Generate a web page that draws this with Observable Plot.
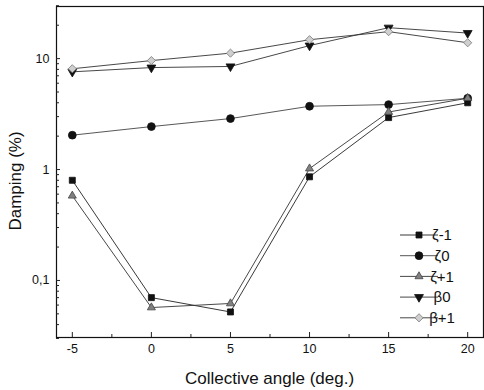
<!DOCTYPE html>
<html>
<head>
<meta charset="utf-8">
<script src="https://cdn.jsdelivr.net/npm/d3@7"></script>
<script src="https://cdn.jsdelivr.net/npm/@observablehq/plot@0.6"></script>
<style>
  html, body { margin: 0; padding: 0; background: #fff; }
  #chart { position: relative; width: 484px; height: 390px; font-family: "Liberation Sans", Arial, sans-serif; }
</style>
</head>
<body>
<div id="chart"></div>
<script>
const angles = [-5, 0, 5, 10, 15, 20];
const seriesNames = ["ζ-1", "ζ0", "ζ+1", "β0", "β+1"];
const zetaMinus1 = [0.80, 0.070, 0.052, 0.86, 2.94, 4.0];
const zeta0 = [2.04, 2.44, 2.88, 3.72, 3.85, 4.39];
const zetaPlus1 = [0.58, 0.057, 0.062, 1.02, 3.3, 4.4];
const beta0 = [7.6, 8.3, 8.5, 13.1, 19.0, 17.0];
const betaPlus1 = [8.1, 9.6, 11.2, 14.8, 17.5, 13.9];
const xMajorTicks = [-5, 0, 5, 10, 15, 20];
const xMinorTicks = [-2.5, 2.5, 7.5, 12.5, 17.5];
const yMajorTicks = [0.1, 1, 10];
const yTickLabels = ["0,1", "1", "10"];

const sqrt3 = Math.sqrt(3);
const triUp = {draw(ctx, size) { const y = -Math.sqrt(size / (sqrt3 * 3)); ctx.moveTo(0, y * 2); ctx.lineTo(-sqrt3 * y, -y); ctx.lineTo(sqrt3 * y, -y); ctx.closePath(); }};
const triDown = {draw(ctx, size) { const y = Math.sqrt(size / (sqrt3 * 3)); ctx.moveTo(0, y * 2); ctx.lineTo(-sqrt3 * y, -y); ctx.lineTo(sqrt3 * y, -y); ctx.closePath(); }};

const styles = {
  "ζ-1": {symbol: d3.symbolSquare, fill: "#111", stroke: "#111", r: 3.4, line: "#222"},
  "ζ0":  {symbol: d3.symbolCircle, fill: "#111", stroke: "#111", r: 3.9, line: "#444"},
  "ζ+1": {symbol: triUp, fill: "#808080", stroke: "#444", r: 3.0, line: "#333"},
  "β0":  {symbol: triDown, fill: "#111", stroke: "#111", r: 3.3, line: "#333"},
  "β+1": {symbol: d3.symbolDiamond2, fill: "#cfcfcf", stroke: "#777", r: 3.7, line: "#333"}
};
const valuesList = [zetaMinus1, zeta0, zetaPlus1, beta0, betaPlus1];
const data = [];
seriesNames.forEach((s, i) => angles.forEach((a, j) => data.push({series: s, angle: a, value: valuesList[i][j]})));

const yMinor = [];
[0.01, 0.1, 1, 10].forEach(b => { for (let k = 2; k <= 9; k++) { const v = b * k; if (v >= 0.03 && v <= 30) yMinor.push(v); } });

const W = 484, H = 390, mL = 56, mR = 1, mT = 6, mB = 53;
const innerW = W - mL - mR, innerH = H - mT - mB;

const marks = [
  Plot.frame({stroke: "#111", strokeWidth: 1.2}),
  Plot.ruleY(yMinor, {y: d => d, insetRight: innerW - 3, stroke: "#222"}),
  Plot.ruleY(yMajorTicks, {y: d => d, insetRight: innerW - 4, stroke: "#222"}),
  Plot.ruleY(yMajorTicks, {y: d => d, insetRight: innerW + 4, insetLeft: -4, stroke: "#222"}),
  Plot.ruleX(xMajorTicks, {x: d => d, insetTop: innerH - 5, stroke: "#222"}),
  Plot.ruleX(xMinorTicks, {x: d => d, insetTop: innerH - 3, stroke: "#222"}),
  Plot.axisY(yMajorTicks, {tickSize: 0, tickPadding: 7, fontSize: 12.5, tickFormat: d => yTickLabels[yMajorTicks.indexOf(d)], label: null}),
  Plot.axisX(xMajorTicks, {tickSize: 0, tickPadding: 7, fontSize: 12.5, tickFormat: d => String(d), label: null})
];
seriesNames.forEach(s => {
  const st = styles[s];
  const d = data.filter(e => e.series === s);
  marks.push(Plot.line(d, {x: "angle", y: "value", stroke: st.line, strokeWidth: 0.9}));
});
seriesNames.forEach(s => {
  const st = styles[s];
  const d = data.filter(e => e.series === s);
  marks.push(Plot.dot(d, {x: "angle", y: "value", symbol: st.symbol, fill: st.fill, stroke: st.stroke, strokeWidth: 0.8, r: st.r}));
});

const plot = Plot.plot({
  width: W, height: H,
  marginLeft: mL, marginRight: mR, marginTop: mT, marginBottom: mB,
  style: {fontFamily: "Liberation Sans, Arial, sans-serif", fontSize: "12px", color: "#111", background: "#fff"},
  x: {domain: [-6, 21], axis: null},
  y: {type: "log", domain: [0.0306, 29.5], axis: null},
  marks
});
document.getElementById("chart").appendChild(plot);

const svg = d3.select(plot);
svg.append("text").attr("x", (mL + W - mR) / 2).attr("y", 384).attr("text-anchor", "middle")
  .attr("font-size", 17).attr("fill", "#111").text("Collective angle (deg.)");
svg.append("text").attr("transform", "translate(21,181) rotate(-90)").attr("text-anchor", "middle")
  .attr("font-size", 17).attr("fill", "#111").text("Damping (%)");

const lg = svg.append("g");
seriesNames.forEach((s, i) => {
  const st = styles[s];
  const y = 235 + i * 20.7;
  lg.append("line").attr("x1", 400).attr("x2", 438).attr("y1", y).attr("y2", y).attr("stroke", st.line).attr("stroke-width", 0.9);
  lg.append("path").attr("d", d3.symbol(st.symbol, Math.PI * st.r * st.r)()).attr("transform", `translate(419,${y})`)
    .attr("fill", st.fill).attr("stroke", st.stroke).attr("stroke-width", 0.8);
  lg.append("text").attr("x", 442).attr("y", y).attr("dy", "0.35em").attr("font-size", 15).attr("fill", "#111").text(s);
});
</script>
</body>
</html>
